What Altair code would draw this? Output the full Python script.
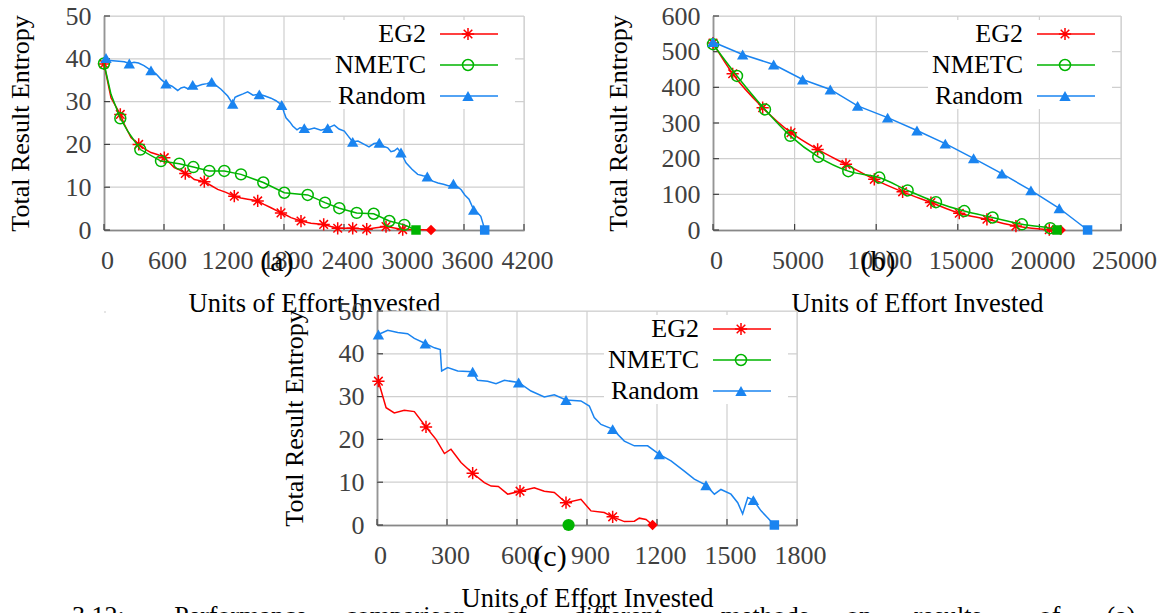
import altair as alt
import pandas as pd

FONT = "Liberation Serif, Times New Roman, serif"
RED = "#ff0000"
GREEN = "#00b400"
BLUE = "#1a84f0"
GRID = "#cfcfcf"
AXIS = "#404040"
NAMES = ["EG2", "NMETC", "Random"]
STAR = "M-1,0L1,0M0,-1L0,1M-0.7,-0.7L0.7,0.7M-0.7,0.7L0.7,-0.7"
CAPTION_WORDS = ["3.12:", "Performance", "comparison", "of", "different", "methods", "on", "results", "of", "(a)"]

# ---------------- Panel (a) ----------------
a_eg2_x = [0, 70, 163, 203, 270, 347, 410, 470, 540, 603, 660, 703, 760, 813, 860, 903, 1003, 1070, 1137, 1220, 1303,
           1370, 1437, 1537, 1600, 1670, 1770, 1820, 1870, 1970, 2070, 2197, 2270, 2337, 2487, 2627, 2720, 2820, 2987, 3100, 3270]
a_eg2_y = [38.8, 30.9, 27.0, 24.7, 21.6, 20.0, 18.9, 18.1, 17.6, 16.9, 15.6, 14.6, 14.0, 13.2, 12.6, 11.8, 11.3, 10.4, 9.5, 8.8, 7.9,
           7.5, 7.2, 6.8, 6.0, 5.2, 4.0, 3.5, 2.9, 2.1, 1.6, 1.3, 0.8, 0.4, 0.4, 0.2, 0.5, 0.8, 0.1, 0.1, 0.0]
a_eg2_mx = [0, 163, 347, 603, 813, 1003, 1303, 1537, 1770, 1970, 2197, 2337, 2487, 2627, 2820, 2987]
a_eg2_my = [38.8, 27.0, 20.0, 16.9, 13.2, 11.3, 7.9, 6.8, 4.0, 2.1, 1.3, 0.4, 0.4, 0.2, 0.8, 0.1]

a_nm_x = [0, 70, 163, 237, 363, 570, 753, 893, 1053, 1203, 1370, 1593, 1803, 2037, 2210, 2353, 2527, 2697, 2853, 3003, 3120]
a_nm_y = [38.9, 31.7, 26.1, 23.1, 18.8, 16.1, 15.5, 14.7, 13.8, 13.8, 13.0, 11.1, 8.7, 8.2, 6.4, 5.1, 4.0, 3.8, 2.1, 1.2, 0.0]
a_nm_mx = [0, 163, 363, 570, 753, 893, 1053, 1203, 1370, 1593, 1803, 2037, 2210, 2353, 2527, 2697, 2853, 3003]
a_nm_my = [38.9, 26.1, 18.8, 16.1, 15.5, 14.7, 13.8, 13.8, 13.0, 11.1, 8.7, 8.2, 6.4, 5.1, 4.0, 3.8, 2.1, 1.2]

a_rd_x = [20, 60, 150, 203, 253, 300, 345, 400, 470, 520, 570, 620, 680, 737, 770, 803, 840, 887, 930, 980, 1030, 1077,
          1120, 1170, 1237, 1287, 1310, 1337, 1390, 1437, 1490, 1553, 1610, 1670, 1720, 1777, 1800, 1820, 1860, 1887,
          1930, 1960, 2003, 2050, 2103, 2170, 2237, 2303, 2350, 2403, 2440, 2487, 2540, 2603, 2650, 2700, 2753, 2800,
          2837, 2870, 2903, 2935, 2970, 3020, 3080, 3137, 3190, 3233, 3287, 3340, 3394, 3450, 3494, 3540, 3572, 3608,
          3650, 3697, 3740, 3768, 3790, 3807]
a_rd_y = [40.2, 39.6, 39.4, 39.3, 38.9, 39.2, 39.0, 38.4, 37.3, 36.5, 35.2, 34.2, 33.6, 32.6, 33.2, 33.4, 33.0, 33.9, 33.6,
          34.0, 34.2, 34.6, 33.8, 32.9, 31.3, 29.5, 31.0, 31.3, 31.8, 32.3, 31.5, 31.7, 31.3, 30.8, 30.2, 29.2, 27.5, 26.2,
          25.2, 24.3, 23.4, 23.9, 23.8, 23.5, 23.8, 23.3, 23.8, 24.5, 23.6, 23.1, 22.0, 20.6, 20.8, 20.0, 19.4, 20.2, 20.4,
          19.5, 19.2, 18.3, 18.5, 19.1, 18.1, 15.7, 14.2, 13.0, 12.7, 12.5, 11.4, 11.0, 10.7, 10.3, 10.8, 10.0, 9.4, 8.2,
          7.2, 4.7, 3.9, 3.2, 1.5, 0.0]
a_rd_mx = [20, 253, 470, 620, 887, 1077, 1287, 1553, 1777, 2003, 2237, 2487, 2753, 2970, 3233, 3494, 3697]
a_rd_my = [40.2, 38.9, 37.3, 34.2, 33.9, 34.6, 29.5, 31.7, 29.2, 23.8, 23.8, 20.6, 20.4, 18.1, 12.5, 10.8, 4.7]

# ---------------- Panel (b) ----------------
b_eg2_x = [0, 1205, 3043, 4778, 6412, 8147, 9883, 11619, 13355, 15090, 16785, 18562, 20604, 21300]
b_eg2_y = [524, 438, 343, 273, 226, 184, 142, 107, 77, 47, 30, 11, 1, 0]
b_nm_x = [0, 1470, 3186, 4737, 6453, 8290, 10190, 11925, 13661, 15397, 17132, 18929, 20665, 21080]
b_nm_y = [521, 432, 338, 264, 205, 165, 147, 111, 78, 53, 35, 16, 5, 0]
b_rd_x = [0, 1817, 3716, 5493, 7188, 8862, 10700, 12497, 14233, 15968, 17704, 19481, 21216, 22952]
b_rd_y = [527, 492, 464, 422, 394, 348, 315, 279, 242, 201, 158, 111, 61, 0]

# ---------------- Panel (c) ----------------
c_eg2_x = [6, 39, 74, 117, 160, 210, 253, 289, 317, 360, 410, 460, 489, 520, 560, 613, 674, 717, 760, 810, 874, 917,
           974, 1010, 1060, 1103, 1124, 1153, 1181]
c_eg2_y = [33.6, 27.4, 26.2, 26.8, 26.5, 22.9, 20.0, 16.7, 17.7, 14.6, 12.1, 9.9, 9.1, 9.0, 7.2, 7.9, 8.7, 7.9, 7.6, 5.2,
           6.0, 3.3, 2.9, 1.9, 0.8, 0.9, 1.6, 1.3, 0.0]
c_eg2_mx = [6, 210, 410, 613, 810, 1010]
c_eg2_my = [33.6, 22.9, 12.1, 7.9, 5.2, 1.9]
c_nm_x = [821]
c_nm_y = [0.0]
c_rd_x = [6, 46, 89, 131, 160, 207, 246, 271, 277, 303, 346, 410, 431, 474, 510, 546, 607, 660, 717, 760, 810, 874, 910,
          931, 960, 1010, 1060, 1103, 1160, 1210, 1260, 1317, 1360, 1410, 1446, 1474, 1517, 1546, 1567, 1589, 1613, 1646,
          1674, 1703]
c_rd_y = [44.5, 45.5, 45.0, 44.7, 43.6, 42.4, 41.4, 41.0, 36.0, 36.8, 36.0, 35.8, 33.8, 33.6, 33.0, 33.8, 33.3, 31.3,
          29.9, 30.4, 29.2, 29.0, 27.8, 25.1, 23.5, 22.4, 19.6, 18.5, 18.5, 16.5, 15.0, 12.6, 10.7, 9.3, 7.2, 8.3, 7.2,
          5.2, 2.6, 6.4, 5.8, 3.3, 1.7, 0.0]
c_rd_mx = [6, 207, 410, 607, 810, 1010, 1210, 1410, 1613]
c_rd_my = [44.5, 42.4, 35.8, 33.3, 29.2, 22.4, 16.5, 9.3, 5.8]


def txt(t, x, y, size=26, align="center", baseline="middle", color="black"):
    return alt.Chart(pd.DataFrame({"t": [t]})).mark_text(
        font=FONT, fontSize=size, color=color, align=align, baseline=baseline).encode(
        text="t:N", x=alt.value(x), y=alt.value(y))


def seg_frame(pairs):
    # two-point segments, one group per segment, for drawing with mark_line
    xs, ys, gs = [], [], []
    for g, ((x0, y0), (x1, y1)) in enumerate(pairs):
        xs += [x0, x1]
        ys += [y0, y1]
        gs += [g, g]
    return pd.DataFrame({"x": xs, "y": ys, "g": gs})


def panel(W, H, xdom, xticks, ydom, yticks, ytitle_x, cap, cap_x, series, end_marks, legend_shapes,
          extra=None, anchor=False):
    xaxis = alt.Axis(values=xticks, format="d", title="Units of Effort Invested", grid=False,
                     domainColor=AXIS, domainWidth=1.5,
                     ticks=False, labelPadding=17, labelFont=FONT, labelFontSize=26, labelColor=AXIS,
                     labelOffset=3, labelFlush=False, labelOverlap=False, titleFont=FONT, titleFontSize=26.5,
                     titleFontWeight="normal", titleColor="black", titleY=73, titleBaseline="middle")
    yaxis = alt.Axis(values=yticks, format="d", title="Total Result Entropy", grid=False,
                     domainColor=AXIS, domainWidth=1.5,
                     ticks=False, labelPadding=13, labelFont=FONT, labelFontSize=26, labelColor=AXIS,
                     labelFlush=False, labelOverlap=False, titleFont=FONT, titleFontSize=26,
                     titleFontWeight="normal", titleColor="black", titleX=ytitle_x, titleY=H / 2,
                     titleAngle=270, titleBaseline="middle", titleAlign="center")
    X = alt.X("x:Q", scale=alt.Scale(domain=xdom, nice=False, zero=False), axis=xaxis)
    Y = alt.Y("y:Q", scale=alt.Scale(domain=ydom, nice=False, zero=False), axis=yaxis)

    # grid segments and 6px inward tick segments, expressed in data units of each scale
    x0, x1 = xdom
    y0, y1 = ydom
    tx = 6.0 / W * (x1 - x0)
    ty = 6.0 / H * (y1 - y0)
    grid_df = seg_frame([((v, y0), (v, y1)) for v in xticks] + [((x0, v), (x1, v)) for v in yticks])
    tick_df = seg_frame([((v, y0), (v, y0 + ty)) for v in xticks] + [((x0, v), (x0 + tx, v)) for v in yticks])

    layers = []
    if anchor:
        # invisible 1px anchor fixing the top-left extent of the whole figure
        layers.append(alt.Chart(pd.DataFrame({"k": [0]})).mark_rect(opacity=0).encode(
            x=alt.value(-100), x2=alt.value(-99), y=alt.value(-20), y2=alt.value(-19)))
    layers.append(alt.Chart(grid_df).mark_line(color=GRID, strokeWidth=1.2).encode(x=X, y=Y, detail="g:N"))
    layers.append(alt.Chart(tick_df).mark_line(color=AXIS, strokeWidth=1.2).encode(x=X, y=Y, detail="g:N"))
    # opaque key box
    layers.append(alt.Chart(pd.DataFrame({"k": [0]})).mark_rect(color="white").encode(
        x=alt.value(W - 193), x2=alt.value(W - 9), y=alt.value(4), y2=alt.value(93)))
    for (lx, ly, mx, my, color, shape, filled, size, interp) in series:
        if len(lx) > 1:
            layers.append(alt.Chart(pd.DataFrame({"x": lx, "y": ly})).mark_line(
                color=color, strokeWidth=1.5, interpolate=interp).encode(x=X, y=Y))
        if mx:
            layers.append(alt.Chart(pd.DataFrame({"x": mx, "y": my})).mark_point(
                shape=shape, filled=filled, color=color, size=size, strokeWidth=1.5, opacity=1).encode(x=X, y=Y))
    for (ex, ey, color, shape, size) in end_marks:
        layers.append(alt.Chart(pd.DataFrame({"x": [ex], "y": [ey]})).mark_point(
            shape=shape, filled=True, color=color, size=size, opacity=1).encode(x=X, y=Y))

    # gnuplot-style key: label, then line sample with marker
    rows = [18 + 31 * i for i in range(3)]
    colors = [RED, GREEN, BLUE]
    for i, name in enumerate(NAMES):
        layers.append(txt(name, W - 98, rows[i], align="right"))
        ldf = pd.DataFrame({"t": [name]})
        layers.append(alt.Chart(ldf).mark_rule(color=colors[i], strokeWidth=1.5).encode(
            x=alt.value(W - 84), x2=alt.value(W - 26), y=alt.value(rows[i])))
        shp, fil, sz = legend_shapes[i]
        layers.append(alt.Chart(ldf).mark_point(shape=shp, filled=fil, color=colors[i], size=sz,
                                                 strokeWidth=1.5, opacity=1).encode(
            x=alt.value(W - 56), y=alt.value(rows[i])))
    # sub-figure label
    layers.append(txt(cap, cap_x, H + 32, size=30))
    if extra:
        layers.extend(extra)
    return alt.layer(*layers).properties(width=W, height=H)


LEG = [(STAR, False, 150), ("circle", False, 120), ("triangle-up", True, 130)]

# document caption line below the figure (mostly cut off by the page edge), justified across the text block
C_LEFT, C_RIGHT, C_OX, C_BASE = 71, 1140, 376, 313
est = [len(w) * 11.5 for w in CAPTION_WORDS]
gap = (C_RIGHT - C_LEFT - sum(est)) / (len(CAPTION_WORDS) - 1)
cap_layers = []
pos = C_LEFT
for w, e in zip(CAPTION_WORDS, est):
    cap_layers.append(txt(w, pos - C_OX, C_BASE, size=26, align="left", baseline="alphabetic"))
    pos += e + gap

pa = panel(420, 214, [0, 4200], list(range(0, 4201, 600)), [0, 50], list(range(0, 51, 10)), -84, "(a)", 173,
           [(a_eg2_x, a_eg2_y, a_eg2_mx, a_eg2_my, RED, STAR, False, 150, "linear"),
            (a_nm_x, a_nm_y, a_nm_mx, a_nm_my, GREEN, "circle", False, 120, "linear"),
            (a_rd_x, a_rd_y, a_rd_mx, a_rd_my, BLUE, "triangle-up", True, 130, "linear")],
           [(a_eg2_x[-1], a_eg2_y[-1], RED, "diamond", 110), (a_nm_x[-1], a_nm_y[-1], GREEN, "square", 90),
            (a_rd_x[-1], a_rd_y[-1], BLUE, "square", 90)], LEG, anchor=True)

pb = panel(408, 214, [0, 25000], list(range(0, 25001, 5000)), [0, 600], list(range(0, 601, 100)), -95, "(b)", 165,
           [(b_eg2_x, b_eg2_y, b_eg2_x[:-1], b_eg2_y[:-1], RED, STAR, False, 150, "monotone"),
            (b_nm_x, b_nm_y, b_nm_x[:-1], b_nm_y[:-1], GREEN, "circle", False, 120, "monotone"),
            (b_rd_x, b_rd_y, b_rd_x[:-1], b_rd_y[:-1], BLUE, "triangle-up", True, 130, "linear")],
           [(b_eg2_x[-1], b_eg2_y[-1], RED, "diamond", 110), (b_nm_x[-1], b_nm_y[-1], GREEN, "square", 90),
            (b_rd_x[-1], b_rd_y[-1], BLUE, "square", 90)], LEG)

pc = panel(420, 214, [0, 1800], list(range(0, 1801, 300)), [0, 50], list(range(0, 51, 10)), -83, "(c)", 173,
           [(c_eg2_x, c_eg2_y, c_eg2_mx, c_eg2_my, RED, STAR, False, 150, "linear"),
            (c_nm_x, c_nm_y, [], [], GREEN, "circle", False, 120, "linear"),
            (c_rd_x, c_rd_y, c_rd_mx, c_rd_my, BLUE, "triangle-up", True, 130, "linear")],
           [(c_eg2_x[-1], c_eg2_y[-1], RED, "diamond", 110), (c_nm_x[-1], c_nm_y[-1], GREEN, "circle", 150),
            (c_rd_x[-1], c_rd_y[-1], BLUE, "square", 90)], LEG, extra=cap_layers)

spacer = alt.Chart(pd.DataFrame({"v": [0]})).mark_point(opacity=0).encode(
    x=alt.X("v:Q", axis=None), y=alt.Y("v:Q", axis=None)).properties(width=1, height=1)

top = alt.hconcat(pa, pb, spacing=189, bounds="flush")
bottom = alt.hconcat(spacer, pc, spacing=272, bounds="flush")
chart = alt.vconcat(top, bottom, spacing=295, bounds="flush").properties(
    padding={"left": -5, "top": -13, "right": 0, "bottom": 0}
).configure_view(stroke=None).configure(background="white")

chart.save("out.html", embed_options={"renderer": "svg", "actions": False})
